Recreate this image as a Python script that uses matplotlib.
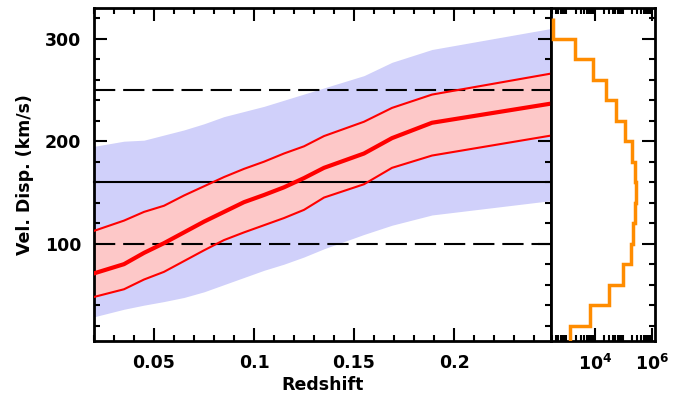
import numpy as np
import matplotlib
matplotlib.use("Agg")
import matplotlib.pyplot as plt
from matplotlib.ticker import FixedLocator, MultipleLocator, NullFormatter, FixedFormatter, LogLocator
from matplotlib.transforms import blended_transform_factory

# ---------------- data ----------------
redshift = [0.02, 0.035, 0.045, 0.055, 0.065, 0.075, 0.085, 0.095, 0.105,
            0.115, 0.125, 0.135, 0.155, 0.169, 0.189, 0.2485]
blue_upper = [195, 200, 201, 206, 211, 217, 224, 229, 234,
              240, 246, 252, 264, 277, 289.5, 310]
blue_lower = [28.6, 36, 40, 43.5, 47.5, 53, 60, 67, 74,
              80, 87, 95, 109, 118, 128, 142]
red_upper = [112.5, 122.5, 131, 137, 147, 156, 165, 173, 180,
             188, 195, 205, 219, 232.5, 245.5, 266]
red_median = [71, 80, 91, 100.5, 111, 121.5, 131, 140.5, 147.5,
              155, 164, 174, 188, 203, 218, 236.7]
red_lower = [48, 55.5, 65, 72.5, 83, 93.5, 103.5, 111, 118,
             125, 133, 145, 158, 174, 186, 205.5]

hist_edges = [0, 20, 40, 60, 80, 100, 120, 140, 160, 180, 200,
              220, 240, 260, 280, 300, 320]
hist_counts = [1230, 6300, 30000, 94000, 177000, 213000, 245000, 265000,
               255000, 196000, 108000, 52000, 24500, 8200, 1950, 310]

ref_solid = [160]
ref_dashed = [100, 250]

x_major = [0.05, 0.1, 0.15, 0.2]
x_major_labels = ["0.05", "0.1", "0.15", "0.2"]
y_major = [100, 200, 300]
hist_major = [1e4, 1e6]
hist_major_labels = [r"$\mathbf{10^4}$", r"$\mathbf{10^6}$"]

# ---------------- figure ----------------
plt.rcParams['font.family'] = ['DejaVu Sans']
plt.rcParams['font.weight'] = 'bold'
plt.rcParams['mathtext.fontset'] = 'dejavusans'

W, H = 694, 399
fig = plt.figure(figsize=(W / 100, H / 100), dpi=100)
L, R, B, T = 94, 551, 341, 8
R2 = 655
ax = fig.add_axes([L / W, 1 - B / H, (R - L) / W, (B - T) / H])
ax2 = fig.add_axes([R / W, 1 - B / H, (R2 - R) / W, (B - T) / H], sharey=ax)

ax.set_xlim(0.02, 0.2485)
ax.set_ylim(5, 330)

ax.fill_between(redshift, blue_lower, blue_upper, color='#d0d0fa', lw=0, zorder=1)
ax.fill_between(redshift, red_lower, red_upper, color='#fdc8c8', lw=0, zorder=2)
ax.plot(redshift, red_upper, color='#ff0000', lw=1.5, zorder=4)
ax.plot(redshift, red_lower, color='#ff0000', lw=1.5, zorder=4)
ax.plot(redshift, red_median, color='#ff0000', lw=3.0, zorder=4)

# horizontal reference lines spanning both panels
trans = blended_transform_factory(ax.transAxes, ax.transData)
xend = (R2 - L) / (R - L)
for v in ref_solid:
    ax.plot([0, xend], [v, v], transform=trans, color='black', lw=1.5,
            clip_on=False, zorder=3)
for v in ref_dashed:
    ax.plot([0, xend], [v, v], transform=trans, color='black', lw=1.5,
            ls=(0, (10.2, 3.8)), clip_on=False, zorder=3)

# ticks main
ax.xaxis.set_major_locator(FixedLocator(x_major))
ax.xaxis.set_major_formatter(FixedFormatter(x_major_labels))
ax.xaxis.set_minor_locator(MultipleLocator(0.01))
ax.yaxis.set_major_locator(FixedLocator(y_major))
ax.yaxis.set_minor_locator(MultipleLocator(20))
ax.tick_params(which='both', direction='in', top=True, right=True, width=1.5,
               labelsize=12.5, pad=9)
ax.tick_params(which='major', length=9.5)
ax.tick_params(which='minor', length=4.5)
for s in ax.spines.values():
    s.set_linewidth(2)
ax.set_xlabel("Redshift", fontsize=12.5, fontweight='bold', labelpad=3)
ax.set_ylabel("Vel. Disp. (km/s)", fontsize=12.5, fontweight='bold', labelpad=8)

# histogram panel
ax2.set_xscale('log')
ax2.set_xlim(274, 1.245e6)
ax2.stairs(hist_counts, hist_edges, orientation='horizontal', baseline=None,
           color='#ff8c00', lw=2.5, zorder=4)
ax2.xaxis.set_major_locator(FixedLocator(hist_major))
ax2.xaxis.set_major_formatter(FixedFormatter(hist_major_labels))
ax2.xaxis.set_minor_locator(LogLocator(base=10, subs=np.arange(2, 10), numticks=20))
ax2.xaxis.set_minor_formatter(NullFormatter())
ax2.tick_params(which='both', direction='in', top=True, right=True, left=False,
                labelleft=False, width=1.5, labelsize=12.5, pad=9)
ax2.tick_params(which='major', length=9.5)
ax2.tick_params(which='minor', length=4.5)
for s in ax2.spines.values():
    s.set_linewidth(2)

fig.savefig("out.png", dpi=100)
